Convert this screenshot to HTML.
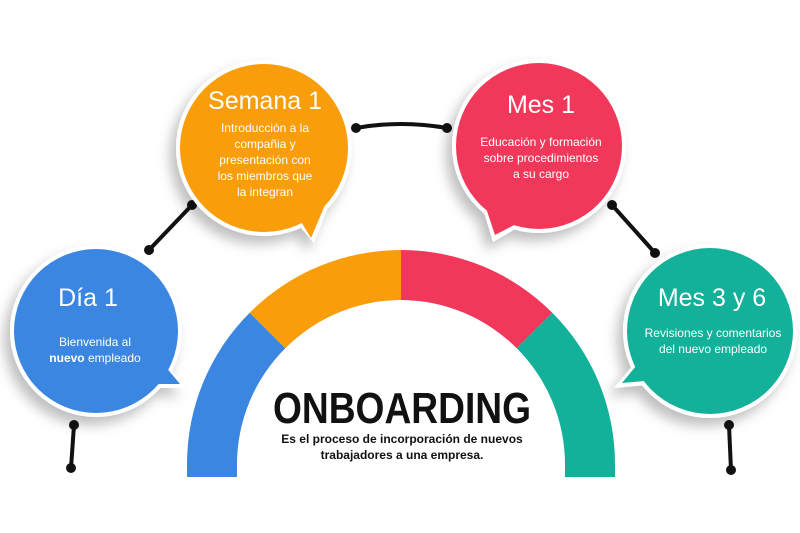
<!DOCTYPE html>
<html><head><meta charset="utf-8"><style>
body{margin:0;background:#fff;}
svg{display:block}
text{font-family:"Liberation Sans",sans-serif;}
</style></head><body>
<svg width="800" height="533" viewBox="0 0 800 533">
<defs>
<filter id="sh" x="-30%" y="-30%" width="160%" height="160%"><feDropShadow dx="-6" dy="8" stdDeviation="6" flood-color="#000" flood-opacity="0.25"/></filter>
</defs>
<!-- arch -->
<g>
<path d="M187,477 L187,464 A214,214 0 0 1 249.7,312.7 L285.3,348.3 A164,164 0 0 0 237,464 L237,477 Z" fill="#3a86e0"/>
<path d="M249.7,312.7 A214,214 0 0 1 401,250 L401,300 A164,164 0 0 0 285.3,348.3 Z" fill="#f99d0b"/>
<path d="M401,250 A214,214 0 0 1 552.3,312.7 L516.7,348.3 A164,164 0 0 0 401,300 Z" fill="#f2385a"/>
<path d="M552.3,312.7 A214,214 0 0 1 615,464 L615,477 L565,477 L565,464 A164,164 0 0 0 516.7,348.3 Z" fill="#13b09a"/>
</g>
<!-- connectors -->
<g stroke="#111" stroke-width="4" fill="none">
<path d="M356,128 Q400,120 447,128"/>
<line x1="149" y1="250" x2="192" y2="205"/>
<line x1="612" y1="205" x2="655" y2="253"/>
<line x1="74" y1="425" x2="71" y2="468"/>
<line x1="729" y1="425" x2="731" y2="470"/>
</g>
<g fill="#111">
<circle cx="356" cy="128" r="5"/><circle cx="447" cy="128" r="5"/>
<circle cx="149" cy="250" r="5"/><circle cx="192" cy="205" r="5"/>
<circle cx="612" cy="205" r="5"/><circle cx="655" cy="253" r="5"/>
<circle cx="74" cy="425" r="5"/><circle cx="71" cy="468" r="5"/>
<circle cx="729" cy="425" r="5"/><circle cx="731" cy="470" r="5"/>
</g>
<!-- bubbles: white base with shadow -->
<g filter="url(#sh)" fill="#fff">
<circle cx="264" cy="148" r="88"/>
<path d="M296,222 L314,243 L330,202 Z"/>
<circle cx="539" cy="146" r="87"/>
<path d="M481,202 L493,242 L522,225 Z"/>
<circle cx="710" cy="331" r="87"/>
<path d="M644,352 L614,388 L658,384 Z"/>
<circle cx="96" cy="331" r="86"/>
<path d="M158,356 L186,388 L146,388 Z"/>
</g>
<g>
<circle cx="264" cy="148" r="84" fill="#f99d0b"/>
<path d="M300,220 L311,238 L325,205 Z" fill="#f99d0b"/>
<circle cx="539" cy="146" r="83" fill="#f2385a"/>
<path d="M485,205 L495,235 L520,222 Z" fill="#f2385a"/>
<circle cx="710" cy="331" r="83" fill="#13b09a"/>
<path d="M645,355 L622,383 L655,380 Z" fill="#13b09a"/>
<circle cx="96" cy="331" r="82" fill="#3a86e0"/>
<path d="M160,360 L180,384 L150,384 Z" fill="#3a86e0"/>
</g>
<!-- texts -->
<g fill="#fff" text-anchor="middle">
<text x="265" y="109" font-size="25">Semana 1</text>
<text x="265" y="132" font-size="12">Introducción a la</text>
<text x="265" y="148" font-size="12">compañia y</text>
<text x="265" y="164" font-size="12">presentación con</text>
<text x="265" y="180" font-size="12">los miembros que</text>
<text x="265" y="196" font-size="12">la integran</text>
<text x="541" y="113" font-size="25">Mes 1</text>
<text x="541" y="146" font-size="12">Educación y formación</text>
<text x="541" y="162" font-size="12">sobre procedimientos</text>
<text x="541" y="178" font-size="12">a su cargo</text>
<text x="88" y="306" font-size="25">Día 1</text>
<text x="95" y="346" font-size="12">Bienvenida al</text>
<text x="95" y="362" font-size="12"><tspan font-weight="bold">nuevo</tspan> empleado</text>
<text x="712" y="306" font-size="25">Mes 3 y 6</text>
<text x="713" y="337" font-size="12">Revisiones y comentarios</text>
<text x="713" y="353" font-size="12">del nuevo empleado</text>
</g>
<g fill="#111" text-anchor="middle" font-weight="bold">
<text x="402" y="423" font-size="44" textLength="258" lengthAdjust="spacingAndGlyphs">ONBOARDING</text>
<text x="402" y="443" font-size="12">Es el proceso de incorporación de nuevos</text>
<text x="402" y="459" font-size="12">trabajadores a una empresa.</text>
</g>
</svg>
</body></html>
